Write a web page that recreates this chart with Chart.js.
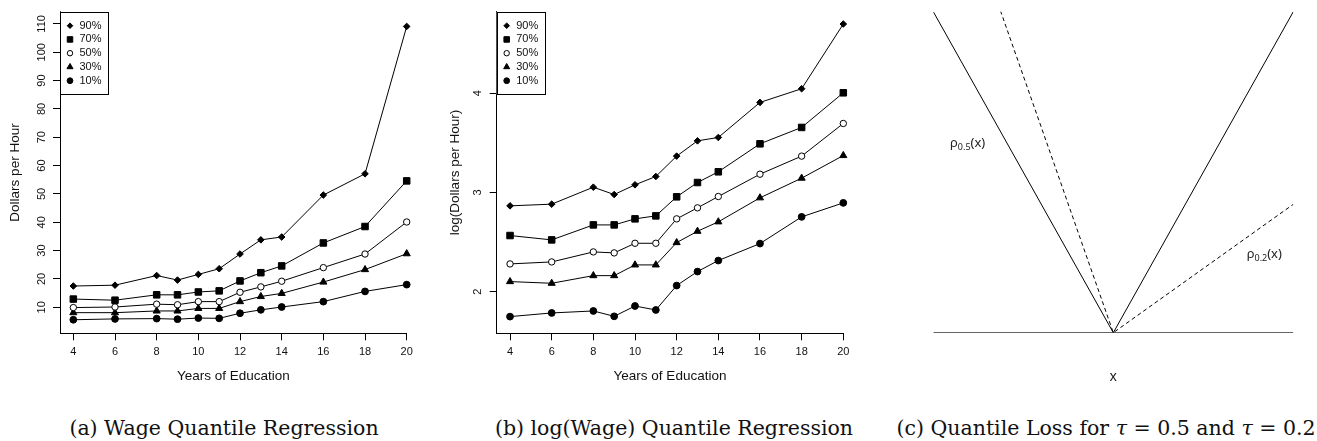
<!DOCTYPE html>
<html>
<head>
<meta charset="utf-8">
<script src="https://cdn.jsdelivr.net/npm/chart.js@4.4.1/dist/chart.umd.min.js"></script>
<style>
  body { margin: 0; background: #fff; width: 1317px; height: 441px; overflow: hidden; position: relative; }
  canvas { position: absolute; top: 0; }
  .cap { position: absolute; top: 418px; line-height: 20px; font-family: "DejaVu Serif", serif; font-size: 20.5px;
         color: #111; white-space: nowrap; transform: translateX(-50%); }
</style>
</head>
<body>
<canvas id="wageChart" width="430" height="395" style="left:0"></canvas>
<canvas id="logWageChart" width="450" height="395" style="left:430px"></canvas>
<canvas id="lossChart" width="437" height="395" style="left:880px"></canvas>
<div class="cap" style="left:224px">(a) Wage Quantile Regression</div>
<div class="cap" style="left:674px">(b) log(Wage) Quantile Regression</div>
<div class="cap" style="left:1106px">(c) Quantile Loss for <i>τ</i> = 0.5 and <i>τ</i> = 0.2</div>
<script>
// years of education on the x axis
const years = [4, 6, 8, 9, 10, 11, 12, 13, 14, 16, 18, 20];
const yearTicks = [4, 6, 8, 10, 12, 14, 16, 18, 20];
const quantileLabels = ["90%", "70%", "50%", "30%", "10%"];

// (a) dollars per hour
const wage90 = [17.5, 17.8, 21.2, 19.6, 21.6, 23.6, 28.8, 33.8, 34.8, 49.6, 57.1, 109.1];
const wage70 = [12.9, 12.5, 14.4, 14.4, 15.4, 15.8, 19.3, 22.2, 24.6, 32.7, 38.5, 54.6];
const wage50 = [9.9, 10.1, 11.1, 10.9, 12.0, 12.0, 15.3, 17.2, 19.2, 24.0, 28.8, 40.1];
const wage30 = [8.1, 8.1, 8.7, 8.7, 9.6, 9.6, 12.0, 13.8, 14.9, 18.9, 23.3, 28.9];
const wage10 = [5.6, 5.9, 6.0, 5.8, 6.2, 6.1, 7.9, 9.1, 10.1, 12.0, 15.6, 18.0];
const wageTicks = [10, 20, 30, 40, 50, 60, 70, 80, 90, 100, 110];

// (b) log dollars per hour
const logWage90 = [2.864, 2.881, 3.052, 2.978, 3.076, 3.160, 3.365, 3.519, 3.553, 3.906, 4.044, 4.696];
const logWage70 = [2.565, 2.521, 2.672, 2.672, 2.733, 2.763, 2.955, 3.099, 3.207, 3.489, 3.654, 4.003];
const logWage50 = [2.279, 2.299, 2.400, 2.390, 2.487, 2.487, 2.733, 2.844, 2.958, 3.183, 3.365, 3.694];
const logWage30 = [2.101, 2.084, 2.161, 2.161, 2.269, 2.269, 2.494, 2.608, 2.703, 2.945, 3.143, 3.371];
const logWage10 = [1.748, 1.785, 1.805, 1.751, 1.855, 1.815, 2.061, 2.202, 2.313, 2.484, 2.753, 2.894];
const logWageTicks = [2, 3, 4];

// (c) check loss, rho_tau(x) at x = -1, 0, 1
const lossX = [-1, 0, 1];
const lossTau05 = [0.5, 0, 0.5];
const lossTau02 = [0.8, 0, 0.2];
const lossBase = [0, 0, 0];

const SANS = "'Liberation Sans', Arial, sans-serif";
const markerStyle = ["rectRot", "rect", "circle", "triangle", "circle"];
const markerRadius = [3.3, 4.6, 3.2, 4.1, 3.4];
const markerFill = ["#000", "#000", "#fff", "#000", "#000"];

function quantileDatasets(series) {
    return series.map((vals, i) => ({
        label: quantileLabels[i],
        data: vals.map((v, j) => ({ x: years[j], y: v })),
        borderColor: "#000",
        borderWidth: 1,
        pointStyle: markerStyle[i],
        pointRadius: markerRadius[i],
        pointBackgroundColor: markerFill[i],
        pointBorderColor: "#000",
        pointBorderWidth: 1,
        tension: 0,
        clip: false,
    }));
}

// R-style boxed legend in the top left corner of the plot region
const boxLegend = {
    id: "boxLegend",
    afterDraw(chart, args, opts) {
        if (!opts || !opts.show) return;
        const { ctx, chartArea } = chart;
        const left = chartArea.left, top = chartArea.top;
        ctx.save();
        ctx.fillStyle = "#fff";
        ctx.fillRect(left, top, 48.5, 82.5);
        ctx.strokeStyle = "#000";
        ctx.lineWidth = 1;
        ctx.strokeRect(Math.round(left) + 0.5, Math.round(top) + 0.5, 48, 82);
        ctx.font = "11px " + SANS;
        ctx.textBaseline = "middle";
        chart.data.datasets.forEach((ds, i) => {
            const y = top + 14 + i * 13.75;
            ctx.fillStyle = ds.pointBackgroundColor;
            ctx.strokeStyle = "#000";
            ctx.lineWidth = 1;
            Chart.helpers.drawPoint(ctx, { pointStyle: ds.pointStyle, radius: ds.pointRadius * 0.85, borderWidth: 1 }, left + 10, y);
            ctx.fillStyle = "#111";
            ctx.fillText(ds.label, left + 19.5, y);
        });
        ctx.restore();
    },
};

// y tick labels written parallel to the axis, as R does by default
const rotatedYTicks = {
    id: "rotatedYTicks",
    afterDraw(chart, args, opts) {
        if (!opts || opts.x === undefined) return;
        const s = chart.scales.y;
        const ctx = chart.ctx;
        ctx.save();
        ctx.font = "11px " + SANS;
        ctx.fillStyle = "#111";
        ctx.textAlign = "center";
        ctx.textBaseline = "middle";
        s.ticks.forEach(t => {
            ctx.save();
            ctx.translate(opts.x, s.getPixelForValue(t.value));
            ctx.rotate(-Math.PI / 2);
            ctx.fillText(String(t.value), 0, 0);
            ctx.restore();
        });
        ctx.restore();
    },
};

function quantileChart(id, series, yTicks, yMin, yMax, yTitle, dims) {
    return new Chart(document.getElementById(id), {
        type: "line",
        data: { datasets: quantileDatasets(series) },
        plugins: [boxLegend, rotatedYTicks],
        options: {
            responsive: false,
            animation: false,
            events: [],
            layout: { padding: { left: 0, top: 11.7, right: dims.right, bottom: 0 } },
            plugins: {
                legend: { display: false },
                tooltip: { enabled: false },
                boxLegend: { show: true },
                rotatedYTicks: { x: dims.tickX },
            },
            scales: {
                x: {
                    type: "linear",
                    min: 3.36,
                    max: 20,
                    afterBuildTicks: s => { s.ticks = yearTicks.map(v => ({ value: v })); },
                    afterFit: s => { s.height = 61.7; },
                    grid: { drawOnChartArea: false, color: "#000", tickLength: 7, lineWidth: 1 },
                    border: { display: true, color: "#000", width: 1 },
                    ticks: { color: "#111", font: { family: SANS, size: 11 }, padding: 5, maxRotation: 0 },
                    title: { display: true, text: "Years of Education", color: "#111",
                             font: { family: SANS, size: 13.5 }, padding: { bottom: 10.5 } },
                },
                y: {
                    type: "linear",
                    min: yMin,
                    max: yMax,
                    afterBuildTicks: s => { s.ticks = yTicks.map(v => ({ value: v })); },
                    afterFit: s => { s.width = dims.left; },
                    grid: { drawOnChartArea: false, color: "#000", tickLength: 7, lineWidth: 1 },
                    border: { display: true, color: "#000", width: 1 },
                    ticks: { display: false },
                    title: { display: true, text: yTitle, color: "#111",
                             font: { family: SANS, size: 13.5 }, padding: { top: dims.titlePad } },
                },
            },
        },
    });
}

quantileChart("wageChart", [wage90, wage70, wage50, wage30, wage10], wageTicks, 0.82, 114.3,
    "Dollars per Hour", { left: 60, right: 23.3, tickX: 42, titlePad: 7.2 });

quantileChart("logWageChart", [logWage90, logWage70, logWage50, logWage30, logWage10], logWageTicks, 1.58, 4.82,
    "log(Dollars per Hour)", { left: 66.7, right: 36.7, tickX: 48.3, titlePad: 17.2 });

// (c) labels for the two loss curves, anchored in data units
const lossNotes = [
    { sub: "0.5", x: -0.907, y: 0.296 },
    { sub: "0.2", x: 0.741, y: 0.1226 },
];

const rhoLabels = {
    id: "rhoLabels",
    afterDraw(chart) {
        const { ctx, scales } = chart;
        ctx.save();
        ctx.fillStyle = "#222";
        ctx.textBaseline = "alphabetic";
        lossNotes.forEach(n => {
            let x = scales.x.getPixelForValue(n.x);
            const y = scales.y.getPixelForValue(n.y) + 4.5;
            ctx.font = "13px 'Noto Sans', sans-serif";
            ctx.fillText("ρ", x, y);
            x += ctx.measureText("ρ").width;
            ctx.font = "9px 'Noto Sans', sans-serif";
            ctx.fillText(n.sub, x, y + 2.5);
            x += ctx.measureText(n.sub).width;
            ctx.font = "13px 'Noto Sans', sans-serif";
            ctx.fillText("(x)", x, y);
        });
        ctx.restore();
    },
};

function lossSeries(vals) {
    return vals.map((v, i) => ({ x: lossX[i], y: v }));
}

new Chart(document.getElementById("lossChart"), {
    type: "line",
    data: {
        datasets: [
            { data: lossSeries(lossTau05), borderColor: "#000", borderWidth: 1, pointRadius: 0 },
            { data: lossSeries(lossTau02), borderColor: "#000", borderWidth: 1, borderDash: [4, 3], pointRadius: 0 },
            { data: lossSeries(lossBase), borderColor: "#000", borderWidth: 1, pointRadius: 0 },
        ],
    },
    plugins: [rhoLabels],
    options: {
        responsive: false,
        animation: false,
        events: [],
        layout: { padding: { left: 53.3, top: 11.7, right: 23.7, bottom: 0 } },
        plugins: { legend: { display: false }, tooltip: { enabled: false } },
        scales: {
            x: {
                type: "linear",
                min: -1,
                max: 1,
                afterFit: s => { s.height = 62.3; },
                grid: { display: false },
                border: { display: false },
                ticks: { display: false },
                title: { display: true, text: "x", color: "#222",
                         font: { family: "'Noto Sans', sans-serif", size: 14 }, padding: { bottom: 10 } },
            },
            y: { type: "linear", min: 0, max: 0.5, display: false },
        },
    },
});
</script>
</body>
</html>
